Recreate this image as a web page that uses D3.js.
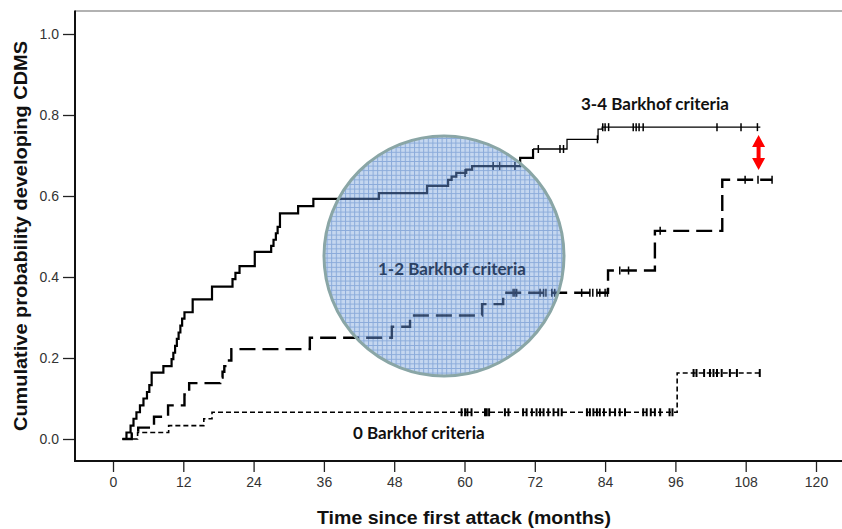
<!DOCTYPE html>
<html>
<head>
<meta charset="utf-8">
<script src="https://cdn.jsdelivr.net/npm/d3@7"></script>
<style>
  body { margin: 0; background: #fff; }
  svg { display: block; }
</style>
</head>
<body>
<svg id="chart" width="842" height="529"></svg>
<script>
// Kaplan-Meier style curves: time to CDMS by number of Barkhof criteria

// Axis ticks
var monthTicks = [0, 12, 24, 36, 48, 60, 72, 84, 96, 108, 120];
var probTicks = [0, 0.2, 0.4, 0.6, 0.8, 1.0];

// 3-4 Barkhof criteria (solid line): step times and cumulative probability
var steps34T = [1.6, 2.3, 3.0, 3.5, 4.0, 4.6, 5.2, 5.8, 6.2, 6.6,
                8.6, 10.0, 10.3, 10.6, 10.9, 11.2, 11.5, 11.8, 12.2, 13.6,
                16.9, 20.4, 20.9, 21.6, 24.2, 27.0, 27.4, 27.8, 28.1, 28.5,
                31.6, 34.2, 45.4, 53.6, 57.2, 57.8, 58.6, 60.3, 61.3, 69.5,
                71.7, 77.5, 82.8, 83.5, 110.5];
var steps34P = [0, 0.016, 0.033, 0.05, 0.066, 0.083, 0.10, 0.116, 0.133, 0.164,
                0.18, 0.197, 0.213, 0.23, 0.247, 0.263, 0.28, 0.297, 0.313, 0.345,
                0.376, 0.395, 0.41, 0.427, 0.462, 0.477, 0.492, 0.508, 0.524, 0.557,
                0.575, 0.593, 0.607, 0.625, 0.64, 0.648, 0.657, 0.665, 0.674, 0.694,
                0.716, 0.74, 0.765, 0.77, 0.77];
var censor34 = [60.1, 64.9, 66.0, 68.6, 72.6, 76.3, 76.9, 82.7, 83.6, 84.0, 84.6,
                88.8, 89.3, 89.8, 90.5, 103.1, 107.2, 110.0];

// 1-2 Barkhof criteria (long dashes)
var steps12T = [1.6, 3.2, 4.3, 7.0, 9.4, 12.2, 13.0, 18.3, 18.7, 19.0, 19.4,
                20.2, 33.6, 47.6, 50.7, 63.0, 66.6, 84.5, 92.5, 104.0, 112.5];
var steps12P = [0, 0.014, 0.028, 0.055, 0.083, 0.11, 0.138, 0.152, 0.166, 0.18, 0.194,
                0.222, 0.25, 0.277, 0.305, 0.333, 0.361, 0.416, 0.514, 0.64, 0.64];
var censor12 = [68.3, 68.6, 68.9, 72.9, 73.5, 73.9, 74.9, 75.4, 80.0, 81.4, 81.9,
                82.6, 83.1, 84.0, 84.4, 86.5, 88.0, 93.4, 107.9, 110.1, 112.5];

// 0 Barkhof criteria (short dashes)
var steps0T = [2.0, 4.2, 9.5, 15.5, 16.9, 96.3, 110.8];
var steps0P = [0, 0.016, 0.033, 0.05, 0.066, 0.163, 0.163];
var censor0 = [59.5, 60.1, 60.5, 61.2, 63.5, 63.8, 64.2, 66.9, 67.5, 70.0, 70.6,
               71.5, 72.3, 72.9, 73.5, 74.3, 75.2, 76.0, 76.6, 80.9, 81.4, 82.0,
               82.6, 83.1, 83.8, 84.8, 85.7, 86.5, 87.4, 90.5, 91.1, 91.8, 92.5,
               93.4, 95.0, 95.5, 99.1, 99.6, 100.9, 101.9, 102.5, 103.1, 103.9,
               105.3, 106.5, 110.4];

var svg = d3.select("#chart");
var axisFont = "Arial, 'Liberation Sans', Helvetica, sans-serif";

// Frame edges (plot area runs off the right side of the picture)
var frameLeft = 75, frameTop = 11, frameBottom = 461, frameRight = 842;

var xScale = d3.scaleLinear().domain([0, 120]).range([113, 816]);
var yScale = d3.scaleLinear().domain([0, 1]).range([439, 34]);

// highlight circle geometry
var circ = { cx: 444, cy: 256, r: 120 };

// zip a step series into point objects
function toPoints(times, probs) {
    return times.map(function(t, i) { return { t: t, p: probs[i] }; });
}

// probability of a step curve at time t (value of the last step before t)
function stepValue(times, probs, t) {
    var i = d3.bisectRight(times, t) - 1;
    return probs[Math.max(0, i)];
}

var stepLine = d3.line()
    .x(function(d) { return xScale(d.t); })
    .y(function(d) { return yScale(d.p); })
    .curve(d3.curveStepAfter);

// ---- axes ----
var yAxis = d3.axisLeft(yScale)
    .tickValues(probTicks)
    .tickFormat(d3.format(".1f"))
    .tickSize(12)
    .tickPadding(4);

var xAxis = d3.axisBottom(xScale)
    .tickValues(monthTicks)
    .tickSize(11)
    .tickPadding(5);

var gy = svg.append("g")
    .attr("transform", "translate(" + frameLeft + ",0)")
    .call(yAxis);
var gx = svg.append("g")
    .attr("transform", "translate(0," + frameBottom + ")")
    .call(xAxis);

[gx, gy].forEach(function(g) {
    g.attr("font-family", null).attr("font-size", null);
    g.select(".domain").remove();
    g.selectAll(".tick line").attr("stroke", "#222").attr("stroke-width", 1.3);
    g.selectAll(".tick text")
        .attr("fill", "#333")
        .style("font-family", axisFont)
        .style("font-size", "14px");
});

// frame lines
svg.append("line")
    .attr("x1", frameLeft).attr("x2", frameRight)
    .attr("y1", frameTop).attr("y2", frameTop)
    .attr("stroke", "#666").attr("stroke-width", 1.2);
svg.append("line")
    .attr("x1", frameLeft).attr("x2", frameLeft)
    .attr("y1", frameTop - 0.6).attr("y2", frameBottom + 1)
    .attr("stroke", "#111").attr("stroke-width", 2);
svg.append("line")
    .attr("x1", frameLeft - 1).attr("x2", frameRight)
    .attr("y1", frameBottom).attr("y2", frameBottom)
    .attr("stroke", "#111").attr("stroke-width", 2);

// axis titles (stretched to the width they take in the original)
svg.append("text")
    .attr("transform", "translate(27,236) rotate(-90)")
    .attr("text-anchor", "middle")
    .attr("textLength", 390)
    .attr("lengthAdjust", "spacingAndGlyphs")
    .style("font-family", axisFont)
    .style("font-weight", "bold")
    .style("font-size", "18.5px")
    .attr("fill", "#111")
    .text("Cumulative probability developing CDMS");

svg.append("text")
    .attr("x", 464).attr("y", 524)
    .attr("text-anchor", "middle")
    .attr("textLength", 294)
    .attr("lengthAdjust", "spacingAndGlyphs")
    .style("font-family", axisFont)
    .style("font-weight", "bold")
    .style("font-size", "18.5px")
    .attr("fill", "#111")
    .text("Time since first attack (months)");

// ---- curves ----
// drawn twice: plain black, then a navy copy clipped to the circle on top of it
function drawCurves(parent, color) {
    var pts34 = toPoints(steps34T, steps34P);
    // early part is drawn heavier than the tail
    parent.append("path")
        .attr("d", stepLine(pts34.slice(0, 41)))
        .attr("fill", "none").attr("stroke", color).attr("stroke-width", 2.2);
    parent.append("path")
        .attr("d", stepLine(pts34.slice(40)))
        .attr("fill", "none").attr("stroke", color).attr("stroke-width", 1.3);

    parent.append("path")
        .attr("d", stepLine(toPoints(steps12T, steps12P)))
        .attr("fill", "none").attr("stroke", color).attr("stroke-width", 2.4)
        .attr("stroke-dasharray", "16,7");

    parent.append("path")
        .attr("d", stepLine(toPoints(steps0T, steps0P)))
        .attr("fill", "none").attr("stroke", color).attr("stroke-width", 1.6)
        .attr("stroke-dasharray", "5,3");

    drawCensors(parent, color, censor34, steps34T, steps34P, 4, 1.5);
    drawCensors(parent, color, censor12, steps12T, steps12P, 4, 1.5);
    drawCensors(parent, color, censor0, steps0T, steps0P, 4, 2);
}

// censor marks
function drawCensors(parent, color, times, stepsT, stepsP, half, width) {
    parent.selectAll(null)
        .data(times)
        .enter()
        .append("line")
        .attr("x1", function(d) { return xScale(d); })
        .attr("x2", function(d) { return xScale(d); })
        .attr("y1", function(d) { return yScale(stepValue(stepsT, stepsP, d)) - half; })
        .attr("y2", function(d) { return yScale(stepValue(stepsT, stepsP, d)) + half; })
        .attr("stroke", color)
        .attr("stroke-width", width);
}

drawCurves(svg.append("g").attr("class", "curves"), "#000");

// ---- highlight circle over the 1-2 group ----
var defs = svg.append("defs");
var pat = defs.append("pattern")
    .attr("id", "mesh")
    .attr("patternUnits", "userSpaceOnUse")
    .attr("width", 4.6).attr("height", 4.6);
pat.append("rect").attr("width", 4.6).attr("height", 4.6).attr("fill", "#c2d5ef");
pat.append("path")
    .attr("d", "M0,0.5H4.6M0.5,0V4.6")
    .attr("stroke", "#84a6d8").attr("stroke-width", 1);

defs.append("clipPath").attr("id", "circClip")
    .append("circle")
    .attr("cx", circ.cx).attr("cy", circ.cy).attr("r", circ.r);

svg.append("circle")
    .attr("cx", circ.cx).attr("cy", circ.cy).attr("r", circ.r)
    .attr("fill", "url(#mesh)")
    .attr("fill-opacity", 0.95);

drawCurves(svg.append("g").attr("clip-path", "url(#circClip)").attr("opacity", 0.85), "#1f3458");

svg.append("circle")
    .attr("cx", circ.cx).attr("cy", circ.cy).attr("r", circ.r)
    .attr("fill", "none")
    .attr("stroke", "#8aa6a6")
    .attr("stroke-width", 3);

// ---- group labels ----
var labelFont = "Lato, 'Open Sans', sans-serif";
var labels = [
    { text: "3-4 Barkhof criteria", x: 581, y: 110, color: "#111" },
    { text: "1-2 Barkhof criteria", x: 378, y: 275, color: "#2b4163" },
    { text: "0 Barkhof criteria", x: 353, y: 439, color: "#111" }
];
svg.selectAll(".group-label")
    .data(labels)
    .enter()
    .append("text")
    .attr("class", "group-label")
    .attr("x", function(d) { return d.x; })
    .attr("y", function(d) { return d.y; })
    .attr("fill", function(d) { return d.color; })
    .style("font-family", labelFont)
    .style("font-weight", "bold")
    .style("font-size", "17px")
    .text(function(d) { return d.text; });

// ---- red double arrow between the two upper curves ----
var arrowX = xScale(110.2);
var arrowTop = 135, arrowBottom = 170, headH = 12, headW = 6.5, shaftW = 2;
svg.append("path")
    .attr("d",
        "M" + arrowX + "," + arrowTop +
        "L" + (arrowX + headW) + "," + (arrowTop + headH) +
        "L" + (arrowX + shaftW) + "," + (arrowTop + headH) +
        "L" + (arrowX + shaftW) + "," + (arrowBottom - headH) +
        "L" + (arrowX + headW) + "," + (arrowBottom - headH) +
        "L" + arrowX + "," + arrowBottom +
        "L" + (arrowX - headW) + "," + (arrowBottom - headH) +
        "L" + (arrowX - shaftW) + "," + (arrowBottom - headH) +
        "L" + (arrowX - shaftW) + "," + (arrowTop + headH) +
        "L" + (arrowX - headW) + "," + (arrowTop + headH) + "Z")
    .attr("fill", "#ff0000");
</script>
</body>
</html>
